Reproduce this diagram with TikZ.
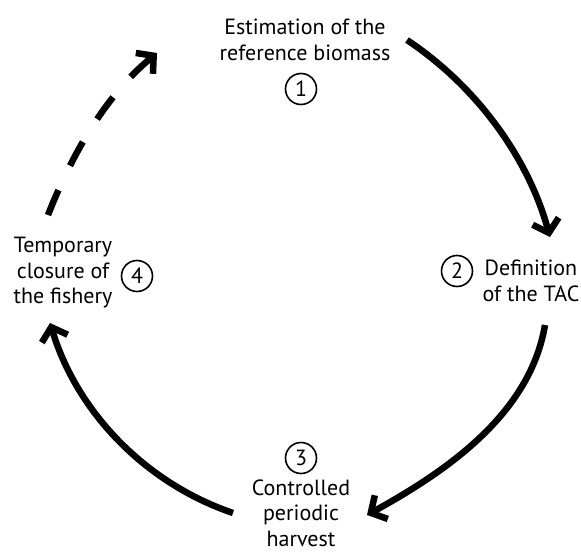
\documentclass[tikz,border=0pt]{standalone}
\usepackage{fontspec}
\setmainfont{PT Sans}
\usetikzlibrary{arrows.meta}
\tikzset{
  lbl/.style={align=center, inner sep=0pt, font=\fontsize{22}{25.5}\selectfont},
  num/.style={circle, draw, line width=1.6pt, minimum size=31pt, inner sep=0pt, font=\fontsize{22}{22}\selectfont},
  flow/.style={line width=6.5pt, -{Straight Barb[length=12pt,width=27pt]}},
  dflow/.style={flow, dash pattern=on 27pt off 27pt}
}
\begin{document}
\begin{tikzpicture}[x=1pt,y=-1pt]
\useasboundingbox[fill=white] (0,0) rectangle (581,554);
% nodes
\node[lbl] (t1) at (305,40) {Estimation of the\\reference biomass};
\node[num] (c1) at (301,89) {1};
\node[lbl] (t2) at (531,281) {Definition\\of the TAC};
\node[num] (c2) at (457,271) {2};
\node[num] (c3) at (301,458) {3};
\node[lbl] (t3) at (301,513) {Controlled\\periodic\\harvest};
\node[lbl] (t4) at (63,273) {Temporary\\closure of\\the fishery};
\node[num] (c4) at (137,276) {4};
% connector ends
\coordinate (a1s) at (407,40);
\coordinate (a1e) at (550,237);
\coordinate (a2s) at (545,325);
\coordinate (a2e) at (367,515);
\coordinate (a3s) at (233,513);
\coordinate (a3e) at (50,323);
\coordinate (a4s) at (48,215);
\coordinate (a4e) at (157,53);
% connectors
\draw[flow] (a1s) .. controls (476,86) and (528,157) .. (a1e);
\draw[flow] (a2s) .. controls (530,414) and (447,471) .. (a2e);
\draw[flow] (a3s) .. controls (145,483) and (77,412) .. (a3e);
\draw[dflow] (a4s) .. controls (72,154) and (106,95) .. (a4e);
\end{tikzpicture}
\end{document}
